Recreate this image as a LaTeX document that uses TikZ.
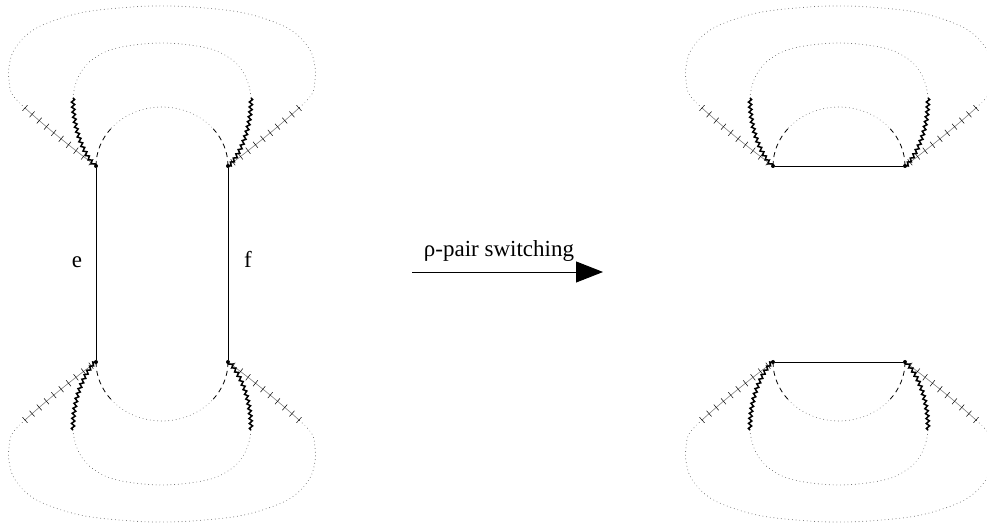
\documentclass[tikz,border=0pt]{standalone}
\usepackage{fontspec}
\setmainfont{Liberation Serif}
\usetikzlibrary{decorations.pathmorphing,decorations.pathreplacing,arrows.meta}
\tikzset{
  dotline/.style={black!65, line width=0.9pt, line cap=round, dash pattern=on 0.01pt off 3.7pt},
  dashline/.style={black, line width=0.8pt, dash pattern=on 5pt off 4pt},
  wavy/.style={black, line width=1.5pt, decorate, decoration={snake, segment length=5pt, amplitude=1.6pt, pre length=0pt, post length=0pt}},
  hatchbase/.style={gray, line width=0.6pt},
  hatchticks/.style={black, line width=0.5pt, decorate, decoration={ticks, segment length=9.5pt, amplitude=3.8pt}},
  vtx/.style={circle, fill=black, inner sep=0pt, minimum size=4pt},
  edgeline/.style={black, line width=0.8pt},
  lbl/.style={font=\fontsize{23}{26}\selectfont, anchor=base, inner sep=0pt}
}
\newcommand{\halfmotif}[1]{%
  \node[vtx] (#1L) at (-66,0) {};
  \node[vtx] (#1R) at (66,0) {};
  \coordinate (#1oL) at (-137,58);
  \coordinate (#1oR) at (137,58);
  \coordinate (#1mL) at (-89,68);
  \coordinate (#1mR) at (89,68);
  % outer dotted curve
  \draw[dotline] plot[smooth,tension=0.6] coordinates {(-137,58) (-150,72) (-153,86) (-153,99) (-148,116) (-133,133) (-112,144) (-77,154) (-30,159) (0,160) (30,159) (77,154) (112,144) (133,133) (148,116) (153,99) (153,86) (150,72) (137,58)};
  % cross-hatched segments
  \draw[hatchbase] (#1oL) .. controls (-115,38) and (-90,18) .. (#1L.center);
  \draw[hatchbase] (#1oR) .. controls (115,38) and (90,18) .. (#1R.center);
  \draw[hatchticks] (#1oL) .. controls (-115,38) and (-90,18) .. (#1L.center);
  \draw[hatchticks] (#1oR) .. controls (115,38) and (90,18) .. (#1R.center);
  % middle dotted curve
  \draw[dotline] plot[smooth,tension=0.6] coordinates {(-89,68) (-87,80) (-81,94) (-69,107) (-45,118) (0,123) (45,118) (69,107) (81,94) (87,80) (89,68)};
  % wavy segments
  \draw[wavy] (#1mL) .. controls (-89,40) and (-80,15) .. (#1L.center);
  \draw[wavy] (#1mR) .. controls (89,40) and (80,15) .. (#1R.center);
  % inner arc
  \draw[dashline] (#1L.center) arc[start angle=180, end angle=140, x radius=66, y radius=59];
  \draw[dotline] (-50.56,37.92) arc[start angle=140, end angle=40, x radius=66, y radius=59];
  \draw[dashline] (#1R.center) arc[start angle=0, end angle=40, x radius=66, y radius=59];
}
\begin{document}
\begin{tikzpicture}[x=1pt,y=1pt]
  \useasboundingbox (0,0) rectangle (987,529);
  \begin{scope}[shift={(162,363)}]
    \halfmotif{tl}
  \end{scope}
  \begin{scope}[shift={(162,167)}, yscale=-1]
    \halfmotif{bl}
  \end{scope}
  \begin{scope}[shift={(839,363)}]
    \halfmotif{tr}
  \end{scope}
  \begin{scope}[shift={(839,167)}, yscale=-1]
    \halfmotif{br}
  \end{scope}
  % edges
  \draw[edgeline] (tlL) -- (blL);
  \draw[edgeline] (tlR) -- (blR);
  \draw[edgeline] (trL) -- (trR);
  \draw[edgeline] (brL) -- (brR);
  % labels
  \node[lbl] (lbe) at (77,261) {e};
  \node[lbl] (lbf) at (248,261) {f};
  % arrow
  \coordinate (as) at (412,257);
  \coordinate (ae) at (603,257);
  \draw[black, line width=0.9pt, -{Triangle[length=27pt,width=21pt]}] (as) -- (ae);
  \node[lbl] (arrlbl) at (499,272) {ρ-pair switching};
\end{tikzpicture}
\end{document}
